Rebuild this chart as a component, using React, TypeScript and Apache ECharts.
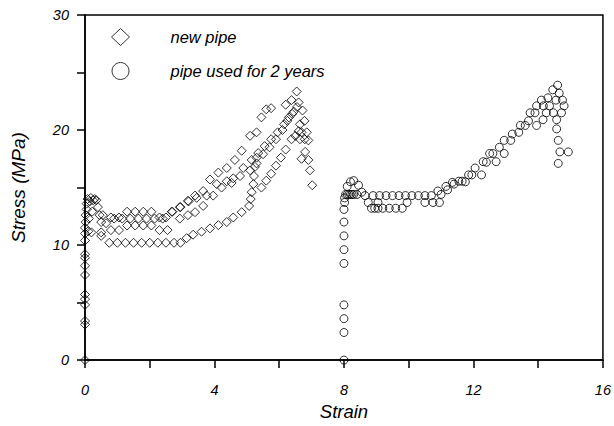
import React, { useEffect, useRef } from "react";
import * as echarts from "echarts";

const xTickLabels = ["0", "4", "8", "12", "16"];
const yTickLabels = ["0", "10", "20", "30"];
const seriesNames = ["new pipe", "pipe used for 2 years"];

// new pipe: strain / stress
const newPipeStrain = [
  // initial loading near zero strain
  0, 0, 0, 0, 0, 0, 0, 0, 0, 0, 0, 0, 0, 0.02, 0.02, 0.05, 0.05, 0.08, 0.1, 0.12, 0.15, 0.18, 0.2, 0.22, 0.25, 0.3, 0.35, 0.4, 0.45, 0.5, 0.5,
  // test A
  0.55, 0.8, 1.05, 1.3, 1.55, 1.8, 2.05, 2.3, 2.5, 2.7, 2.95, 3.2, 3.4, 3.65, 3.86, 4.12, 4.38, 4.63, 4.84, 5.1, 5.3, 5.45, 5.6, 5.75, 6.2, 6.38, 6.54,
  // test B
  0.65, 0.9, 1.15, 1.4, 1.65, 1.9, 2.15, 2.4, 2.68, 2.93, 3.18, 3.45, 3.76, 4.07, 4.38, 4.58, 4.89, 5.15, 5.35, 5.55, 5.75, 5.95, 6.15, 6.3, 6.45, 6.6,
  // test C
  0.8, 1.05, 1.3, 1.55, 1.8, 2.05, 2.3, 2.55, 2.93, 3.18, 3.4, 3.65, 3.96, 4.22, 4.53, 4.79, 5.1, 5.3, 5.5, 5.7, 5.9, 6.1, 6.25, 6.4, 6.55,
  // test D
  0.5, 0.75, 1.0, 1.25, 1.5, 1.75, 2.0, 2.25, 2.5, 2.75, 2.95, 3.14, 3.34, 3.6, 3.86, 4.12, 4.38, 4.58, 4.84, 5.07, 5.12, 5.15, 5.2, 5.22, 5.25, 5.3, 5.45, 5.6, 5.75, 5.9, 6.05, 6.2, 6.38, 6.5, 6.6,
  // post-peak
  6.64, 6.69, 6.85, 6.64, 6.79, 6.9, 6.69, 6.8, 6.9, 6.95, 7.02, 6.72, 6.78,
];
const newPipeStress = [
  0, 3.1, 3.4, 4.8, 5.3, 5.7, 7.4, 8.2, 8.9, 9.2, 10.4, 11.0, 11.5, 12.0, 12.6, 13.1, 13.6, 14.0, 11.2, 12.3, 13.8, 14.1, 11.1, 12.9, 13.9, 14.0, 13.9, 13.3, 12.6, 12.0, 11.1,
  12.6, 12.4, 12.4, 12.9, 12.9, 12.9, 12.9, 12.4, 12.4, 12.9, 13.3, 13.8, 14.3, 14.7, 15.7, 16.3, 16.7, 17.4, 18.2, 19.5, 19.8, 21.1, 21.8, 21.9, 22.2, 22.6, 23.35,
  11.9, 12.3, 12.3, 12.3, 12.3, 12.3, 12.3, 12.3, 12.9, 13.3, 13.85, 14.1, 14.3, 15.3, 15.55, 15.8, 16.7, 17.4, 18.0, 18.6, 19.2, 19.8, 20.5, 21.1, 21.6, 22.4,
  11.3, 11.3, 11.7, 11.7, 11.7, 11.7, 11.3, 11.3, 12.3, 12.6, 12.86, 13.4, 14.3, 15.0, 15.4, 16.0, 16.5, 17.1, 17.9, 18.5, 19.2, 20.0, 20.8, 21.4, 22.0,
  10.8, 10.2, 10.2, 10.2, 10.2, 10.2, 10.2, 10.2, 10.2, 10.2, 10.2, 10.6, 10.9, 11.16, 11.45, 11.73, 12.0, 12.4, 12.86, 13.4, 14.0, 14.6, 15.3, 16.0, 16.8, 17.6, 15.0, 15.6, 16.2, 16.9, 17.6, 18.3, 19.2, 19.5, 19.9,
  20.5, 19.8, 19.8, 19.2, 19.2, 19.1, 17.5, 18.1, 17.4, 16.5, 15.2, 21.7, 20.8,
];

// pipe used for 2 years: strain / stress
const usedPipeStrain = [
  8, 8, 8, 8, 8, 8, 8, 8, 8, 8.02, 8.02, 8.05,
  8.1, 8.15, 8.2, 8.25, 8.3, 8.4, 8.1, 8.2, 8.3, 8.45, 8.55, 8.65, 8.75, 8.85, 8.95, 9.05, 9.05, 9.2, 9.4, 9.6, 9.8,
  8.9, 9.1, 9.3, 9.5, 9.7, 9.9, 10.1, 10.3, 10.5, 10.7, 9.95, 10.5, 10.75, 10.95, 10.9, 11.0, 11.15, 11.2, 11.35, 11.4,
  11.55, 11.65, 11.75, 11.85, 11.95, 12.05, 12.25, 12.3, 12.4, 12.5, 12.6, 12.7, 12.8, 12.95, 12.95, 13.15, 13.2, 13.4,
  13.45, 13.6, 13.7, 13.75, 13.9, 13.95, 13.95, 14.1, 14.15, 14.16, 14.25, 14.3, 14.35, 14.45, 14.47, 14.55, 14.6, 14.65,
  14.57, 14.72, 14.75, 14.8, 14.57, 14.62, 14.67, 14.93, 14.62,
];
const usedPipeStress = [
  0, 2.4, 3.6, 4.8, 8.4, 9.6, 10.8, 12.0, 13.1, 13.7, 14.1, 14.4,
  14.4, 14.4, 14.4, 14.4, 14.4, 14.4, 15.1, 15.5, 15.6, 15.2, 14.6, 14.3, 13.7, 13.2, 13.2, 13.2, 13.7, 13.2, 13.2, 13.2, 13.2,
  14.3, 14.3, 14.3, 14.3, 14.3, 14.3, 14.3, 14.3, 14.3, 14.3, 13.7, 13.7, 13.7, 13.7, 14.7, 14.4, 15.1, 14.8, 15.45, 15.3,
  15.55, 15.55, 15.5, 16.1, 16.1, 16.7, 16.1, 17.25, 17.2, 17.96, 17.96, 17.25, 18.5, 17.96, 19.1, 19.1, 19.65, 19.8,
  20.4, 20.4, 20.8, 21.5, 21.5, 20.4, 22.1, 22.6, 20.9, 22.1, 21.5, 22.8, 22.1, 23.5, 21.5, 22.6, 23.9, 23.2,
  20.9, 21.5, 22.6, 22.1, 20.1, 19.1, 18.1, 18.1, 17.1,
];

const FONT = "'Liberation Sans', Arial, Helvetica, sans-serif";

export default function App() {
  const ref = useRef<HTMLDivElement>(null);
  useEffect(() => {
    if (!ref.current) return;
    const chart = echarts.init(ref.current, undefined, { renderer: "svg" });
    const newData = newPipeStrain.map((x, i) => [x, newPipeStress[i]]);
    const usedData = usedPipeStrain.map((x, i) => [x, usedPipeStress[i]]);
    const axisCommon = {
      axisLine: { show: true, onZero: false, lineStyle: { color: "#000", width: 1.5 } },
      axisTick: { show: true, inside: false, length: 8, lineStyle: { color: "#000", width: 1.5 } },
      splitLine: { show: false },
    };
    chart.setOption({
      animation: false,
      backgroundColor: "#fff",
      textStyle: { fontFamily: FONT },
      grid: {
        left: 85,
        right: 11,
        top: 15,
        bottom: 58,
        show: true,
        borderColor: "#000",
        borderWidth: 1.5,
        backgroundColor: "transparent",
      },
      legend: {
        orient: "vertical",
        left: 106,
        top: 23,
        itemWidth: 18,
        itemHeight: 17,
        itemGap: 16,
        data: [
          { name: seriesNames[0], icon: "diamond" },
          { name: seriesNames[1], icon: "circle" },
        ],
        itemStyle: { color: "transparent", borderColor: "#000", borderWidth: 1 },
        textStyle: {
          fontFamily: FONT,
          fontStyle: "italic",
          fontSize: 16.5,
          color: "#000",
          padding: [0, 0, 0, 36],
        },
      },
      xAxis: {
        type: "value",
        min: 0,
        max: 16,
        interval: 2,
        name: "Strain",
        nameLocation: "middle",
        nameGap: 40,
        nameTextStyle: { fontFamily: FONT, fontStyle: "italic", fontSize: 18.5, color: "#000" },
        ...axisCommon,
        axisLabel: {
          margin: 22,
          fontFamily: FONT,
          fontStyle: "italic",
          fontSize: 14.5,
          color: "#000",
          formatter: (v: number) => (xTickLabels.includes(String(v)) ? String(v) : ""),
        },
      },
      yAxis: {
        type: "value",
        min: 0,
        max: 30,
        interval: 5,
        name: "Stress (MPa)",
        nameLocation: "middle",
        nameGap: 57,
        nameRotate: 90,
        nameTextStyle: { fontFamily: FONT, fontStyle: "italic", fontSize: 19, color: "#000" },
        ...axisCommon,
        axisLabel: {
          margin: 16,
          fontFamily: FONT,
          fontStyle: "italic",
          fontSize: 14.5,
          color: "#000",
          formatter: (v: number) => (yTickLabels.includes(String(v)) ? String(v) : ""),
        },
      },
      series: [
        {
          name: seriesNames[0],
          type: "scatter",
          symbol: "diamond",
          symbolSize: [9, 9],
          data: newData,
          itemStyle: { color: "transparent", borderColor: "#000", borderWidth: 1 },
        },
        {
          name: seriesNames[1],
          type: "scatter",
          symbol: "circle",
          symbolSize: 8,
          data: usedData,
          itemStyle: { color: "transparent", borderColor: "#000", borderWidth: 1 },
        },
      ],
    });
    return () => chart.dispose();
  }, []);
  return <div ref={ref} style={{ width: 614, height: 426, position: "absolute", left: 0, top: 0 }} />;
}
